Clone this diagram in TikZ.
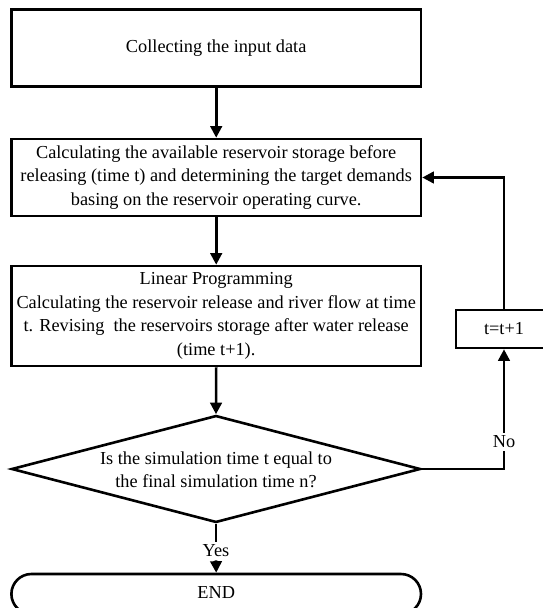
\documentclass[tikz,border=0pt]{standalone}
\usepackage{fontspec}
\setmainfont{Liberation Serif}
\usetikzlibrary{arrows.meta,shapes.geometric}
\tikzset{
  flow/.style={draw, line width=2.6pt, rectangle, inner sep=0pt, minimum width=409.6pt, align=center},
  dec/.style={draw, line width=2.6pt, diamond, inner sep=0pt, minimum width=409pt, minimum height=107pt},
  txt/.style={inner sep=0pt, align=center},
  lbl/.style={inner sep=3pt},
  conn/.style={line width=2.6pt},
  arr/.style={conn, -{Triangle[length=11.5pt,width=11.5pt]}},
}
\begin{document}
\begin{tikzpicture}[x=1pt,y=-1pt,font=\fontsize{18.3}{23.5}\selectfont]
\useasboundingbox (0,0) rectangle (543,608);
\node[flow, minimum height=77.2pt] (b1) at (216.2,47.9) {Collecting the input data};
\node[flow, minimum height=77pt] (b2) at (216.2,177.5) {Calculating the available reservoir storage before\\releasing (time t) and determining the target demands\\basing on the reservoir operating curve.};
\node[flow, minimum height=100pt] (b3) at (216.2,316) {Linear Programming\\Calculating the reservoir release and river flow at time\\t. Revising\ \ the reservoirs storage after water release\\(time t+1).};
\node[dec] (d) at (216,469) {};
\node[txt] (dt) at (216,470) {Is the simulation time t equal to\\the final simulation time n?};
\node[draw, line width=2.6pt, rectangle, rounded corners=20pt, minimum width=409.6pt, minimum height=40pt, inner sep=0pt] (e) at (216.2,594) {};
\node[txt] (et) at (216.2,593) {END};
\node[draw, line width=2.6pt, rectangle, minimum width=96pt, minimum height=38pt, inner sep=0pt] (t) at (504,329) {t=t+1};
\node[lbl] (yes) at (216,551) {Yes};
\node[lbl] (no) at (504,442) {No};
\draw[arr] (b1.south) -- (b2.north);
\draw[arr] (b2.south) -- (b3.north);
\draw[arr] (b3.south) -- (d.north);
\draw[conn] (d.south) -- (yes.north);
\draw[arr] (yes.south) -- (e.north);
\draw[conn] (d.east) -| (no.south);
\draw[arr] (no.north) -- (t.south);
\draw[arr] (t.north) |- (b2.east);
\end{tikzpicture}
\end{document}
